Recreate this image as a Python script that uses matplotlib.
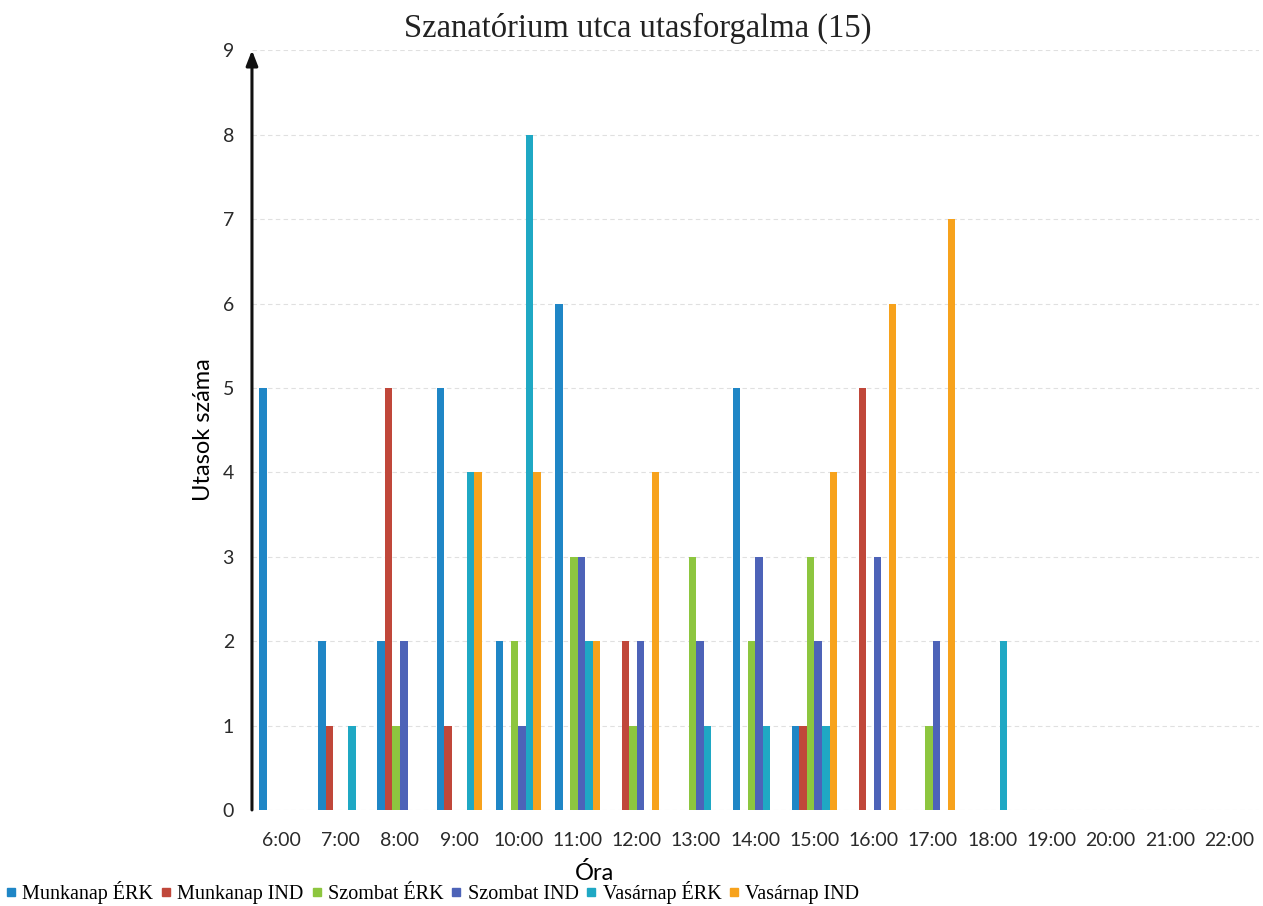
import matplotlib.pyplot as plt
from matplotlib.lines import Line2D
import numpy as np

# hours on the x axis
hours = ["6:00", "7:00", "8:00", "9:00", "10:00", "11:00", "12:00", "13:00",
         "14:00", "15:00", "16:00", "17:00", "18:00", "19:00", "20:00", "21:00", "22:00"]

# passenger counts per hour
munkanap_erk = [5, 2, 2, 5, 2, 6, 0, 0, 5, 1, 0, 0, 0, 0, 0, 0, 0]
munkanap_ind = [0, 1, 5, 1, 0, 0, 2, 0, 0, 1, 5, 0, 0, 0, 0, 0, 0]
szombat_erk = [0, 0, 1, 0, 2, 3, 1, 3, 2, 3, 0, 1, 0, 0, 0, 0, 0]
szombat_ind = [0, 0, 2, 0, 1, 3, 2, 2, 3, 2, 3, 2, 0, 0, 0, 0, 0]
vasarnap_erk = [0, 1, 0, 4, 8, 2, 0, 1, 1, 1, 0, 0, 2, 0, 0, 0, 0]
vasarnap_ind = [0, 0, 0, 4, 4, 2, 4, 0, 0, 4, 6, 7, 0, 0, 0, 0, 0]

series_names = ["Munkanap ÉRK", "Munkanap IND", "Szombat ÉRK",
                "Szombat IND", "Vasárnap ÉRK", "Vasárnap IND"]
series = [munkanap_erk, munkanap_ind, szombat_erk, szombat_ind, vasarnap_erk, vasarnap_ind]
colors = ["#1f86c6", "#c0473a", "#8dc63f", "#4d63b8", "#1fa8c4", "#f7a21c"]

fig = plt.figure(figsize=(12.63, 9.06), dpi=100)
ax = fig.add_axes([0.1995, 0.106, 0.797, 0.8385])

x = np.arange(len(hours))
w = 0.127
for i in range(6):
    ax.bar(x + (i - 2.5) * w, series[i], width=w, color=colors[i], zorder=3)

ax.set_xlim(-0.5, len(hours) - 0.5)
ax.set_ylim(0, 9)
ax.set_yticks(range(10))
ax.set_xticks(x)
ax.set_xticklabels(hours)
ax.tick_params(axis="both", length=0, labelsize=14, colors="#2a2a2a")
ax.tick_params(axis="x", pad=16)
ax.tick_params(axis="y", pad=13)
for lab in ax.get_xticklabels() + ax.get_yticklabels():
    lab.set_family("Lato")

for s in ax.spines.values():
    s.set_visible(False)

for yv in range(0, 10):
    ax.axhline(yv, color="#e0e0e0", lw=0.8, ls=(0, (4, 3)), zorder=1)

# vertical axis drawn as an arrow
ax.annotate("", xy=(-0.5, 9.0), xytext=(-0.5, 0), xycoords="data",
            arrowprops=dict(arrowstyle="-|>,head_length=0.9,head_width=0.35",
                            color="#111111", lw=2.2, shrinkA=0, shrinkB=0),
            annotation_clip=False, zorder=5)

fig.text(0.505, 0.969, "Szanatórium utca utasforgalma (15)", ha="center", va="center",
         family="Liberation Serif", fontsize=23.5, color="#222222")
ax.set_ylabel("Utasok száma", family="Lato", fontsize=17, labelpad=6)
fig.text(0.471, 0.036, "Óra", ha="center", va="center", family="Lato", fontsize=17)

handles = [Line2D([], [], marker="s", ls="", color=c, markersize=6) for c in colors]
fig.legend(handles, series_names, loc="center left", bbox_to_anchor=(-0.004, 0.0144),
           ncol=6, frameon=False, handlelength=0.6, handletextpad=0.25, borderpad=0,
           columnspacing=0.35, prop={"family": "Liberation Serif", "size": 14.5})

fig.savefig("out.png", dpi=100)
